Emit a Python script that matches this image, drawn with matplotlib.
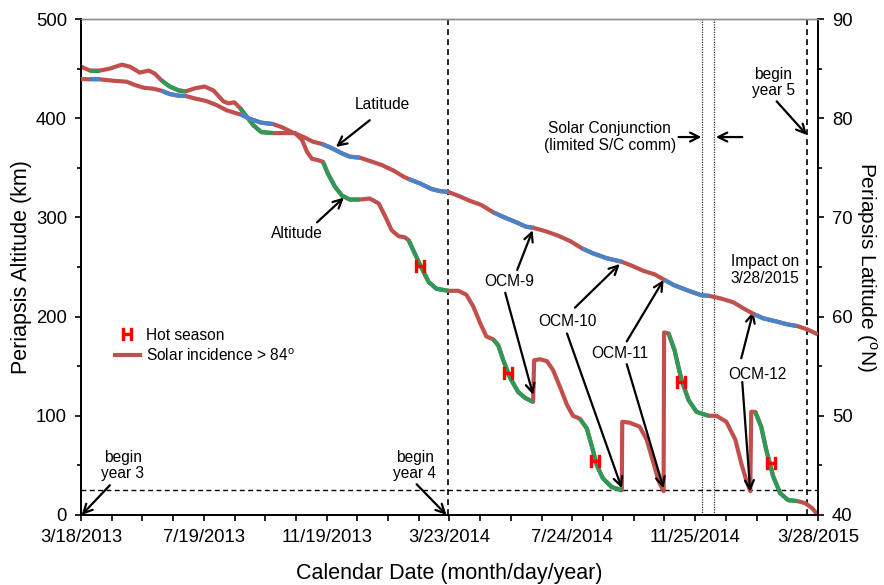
import numpy as np
import matplotlib.pyplot as plt
from matplotlib.lines import Line2D

plt.rcParams['font.family'] = ['Liberation Sans', 'DejaVu Sans']
plt.rcParams['mathtext.fontset'] = 'custom'
plt.rcParams['mathtext.rm'] = 'Liberation Sans'
plt.rcParams['mathtext.bf'] = 'Liberation Sans:bold'

# x values are days since 3/18/2013
alt_day = [0, 9, 19, 29, 41, 49, 59, 68, 74, 81, 89, 98, 105, 114, 124, 133, 143, 148, 154, 160,
           166, 173, 181, 193, 203, 215, 222, 227, 232, 237, 243, 248, 255, 262, 270, 280, 290, 299, 305, 312,
           319, 325, 329, 335, 342, 349, 357, 369, 379, 387, 394, 401, 407, 414, 419, 424, 431, 439, 446, 454,
           455, 461, 468, 474, 481, 488, 494, 501, 508, 513, 518, 524, 533, 543, 543.5, 551, 561, 568, 575, 580,
           585, 585.5, 590, 596, 603, 610, 618, 630, 638, 648, 657, 663, 668, 672, 673, 677, 683, 688, 695, 702,
           710, 719, 727, 734, 740]
alt_km = [452, 448, 448, 450, 454, 452, 446, 448, 445, 438, 432, 428, 427, 430, 432, 428, 417, 415, 416, 410,
          402, 393, 386, 385, 385, 385, 378, 366, 359, 358, 356, 344, 331, 322, 318, 318, 319, 314, 302, 287,
          281, 280, 277, 264, 249, 235, 228, 226, 226, 222, 210, 193, 180, 177, 171, 156, 138, 124, 118, 114,
          156, 157, 155, 146, 129, 111, 100, 97, 87, 69, 50, 37, 28, 25, 94, 93, 89, 76, 52, 34,
          24, 184, 183, 166, 136, 116, 104, 100, 100, 94, 76, 52, 35, 24, 104, 104, 89, 66, 39, 22,
          15, 14, 12, 7, 0]

lat_day = [0, 9, 19, 32, 46, 54, 63, 73, 81, 89, 98, 105, 114, 126, 136, 146, 156, 160, 170, 181,
           193, 202, 213, 223, 233, 242, 250, 262, 270, 280, 290, 302, 314, 324, 329, 340, 352, 360, 369, 381,
           391, 402, 414, 425, 437, 447, 454, 468, 479, 491, 503, 514, 528, 543, 553, 565, 576, 586, 595, 608,
           622, 631, 642, 655, 665, 676, 685, 699, 709, 719, 729, 740]
lat_deg = [83.95, 83.92, 83.92, 83.78, 83.68, 83.35, 83.07, 82.97, 82.77, 82.44, 82.27, 82.24, 82.0, 81.73,
           81.33, 80.81, 80.49, 80.39, 79.92, 79.55, 79.41, 79.08, 78.54, 78.13, 77.63, 77.40, 77.07, 76.46,
           76.12, 76.02, 75.69, 75.28, 74.71, 74.10, 73.87, 73.44, 72.86, 72.66, 72.56, 72.09, 71.65, 71.25,
           70.51, 70.01, 69.51, 69.06, 68.96, 68.56, 68.16, 67.62, 66.88, 66.38, 65.88, 65.53, 65.13, 64.60,
           64.26, 63.69, 63.19, 62.68, 62.18, 62.08, 61.84, 61.44, 60.84, 60.23, 59.83, 59.49, 59.22, 59.05,
           58.72, 58.2]

# periods when solar incidence is below 84 deg (green / blue parts)
seasons = [(9, 19), (81, 105), (160, 193), (242, 280), (329, 369), (414, 454.5),
           (501, 543.2), (586, 631), (676, 719)]

hot_day = [340, 429, 516, 602, 693]
hot_km = [251, 143, 54, 134, 52]

tick_days = np.linspace(0, 740, 7)
tick_labels = ['3/18/2013', '7/19/2013', '11/19/2013', '3/23/2014', '7/24/2014', '11/25/2014', '3/28/2015']
year_starts = [369, 729]
conjunction = [624, 636]
min_alt = 25

RED = '#C0504D'
GREEN = '#2E9A58'
BLUE = '#4A84C8'

fig = plt.figure(figsize=(8.84, 5.85), dpi=100)
ax = fig.add_axes([0.0916, 0.1197, 0.8337, 0.8478])
ax2 = ax.twinx()


def draw(a, x, y, col):
    x = np.asarray(x, dtype=float)
    y = np.asarray(y, dtype=float)
    a.plot(x, y, color=RED, lw=3, solid_capstyle='butt', solid_joinstyle='round', zorder=3)
    for s, e in seasons:
        m = (x >= s) & (x <= e)
        a.plot(x[m], y[m], color=col, lw=3, solid_capstyle='butt', solid_joinstyle='round', zorder=4)


draw(ax, alt_day, alt_km, GREEN)
draw(ax2, lat_day, lat_deg, BLUE)

ax.plot(hot_day, hot_km, ls='none', marker='$\\mathbf{H}$', ms=8.5, color='red', zorder=5)

for d in year_starts:
    ax.axvline(d, color='k', ls=(0, (3.5, 2.5)), lw=1.2, zorder=2)
for d in conjunction:
    ax.axvline(d, color='#333333', ls=(0, (1, 1)), lw=0.9, zorder=2)
ax.axhline(min_alt, color='k', ls=(0, (3.5, 2.5)), lw=1.0, zorder=2)

ax.set_xlim(0, 740)
ax.set_ylim(0, 500)
ax2.set_ylim(40, 90)
ax.set_xticks(tick_days)
ax.set_xticklabels(tick_labels)
ax.set_xticks(np.linspace(0, 740, 25), minor=True)
ax.set_yticks(np.arange(0, 501, 100))
ax.set_yticks(np.arange(0, 501, 50), minor=True)
ax2.set_yticks(np.arange(40, 91, 10))
ax2.set_yticks(np.arange(40, 91, 5), minor=True)

ax.tick_params(axis='x', which='both', direction='out', length=4, width=1.2, labelsize=13.3, pad=6)
ax.tick_params(axis='y', which='major', direction='out', length=4, width=1.2, labelsize=13.3, pad=6)
ax.tick_params(axis='y', which='minor', direction='out', length=3, width=1.2)
ax2.tick_params(axis='y', which='major', direction='out', length=4, width=1.2, labelsize=13.3, pad=6)
ax2.tick_params(axis='y', which='minor', direction='out', length=3, width=1.2)

for a in (ax, ax2):
    a.spines['top'].set_color('#8c8c8c')
    a.spines['top'].set_linewidth(1.0)
    for s in ('left', 'right', 'bottom'):
        a.spines[s].set_linewidth(1.3)

ax.set_xlabel('Calendar Date (month/day/year)', fontsize=15.5, labelpad=12)
ax.set_ylabel('Periapsis Altitude (km)', fontsize=15.5, labelpad=3)
ax2.set_ylabel('Periapsis Latitude ($^{\\mathregular{o}}$N)', fontsize=15, rotation=270,
               va='bottom', labelpad=1)

fs = 11.2
texts = [
    (303, 414, 'Latitude'),
    (217, 284, 'Altitude'),
    (430, 235, 'OCM-9'),
    (488, 195, 'OCM-10'),
    (541, 163, 'OCM-11'),
    (679, 142, 'OCM-12'),
    (42, 50, 'begin\nyear 3'),
    (335, 50, 'begin\nyear 4'),
    (695, 436, 'begin\nyear 5'),
    (531, 381, 'Solar Conjunction\n(limited S/C comm)'),
    (687, 247, 'Impact on\n3/28/2015'),
]
for x, y, s in texts:
    ax.text(x, y, s, fontsize=fs, ha='center', va='center', linespacing=1.1, zorder=6)

arrows = [
    ((290, 398), (256, 371)),
    ((237, 295), (264, 320)),
    ((438, 247), (453.5, 287)),
    ((426, 224), (454, 121)),
    ((496, 209), (541, 253)),
    ((488, 183), (543, 27)),
    ((548, 175), (585, 237)),
    ((548, 152), (585, 27)),
    ((663, 158), (675, 205)),
    ((664, 134), (672, 23.5)),
    ((29, 30), (0.7, 0)),
    ((337, 31), (367, 0)),
    ((698.5, 417), (729, 383)),
    ((600, 381), (623, 381)),
    ((664, 381), (637.5, 381)),
]
for tail, head in arrows:
    ax.annotate('', xy=head, xytext=tail,
                arrowprops=dict(arrowstyle='->', color='k', lw=1.6, mutation_scale=16,
                                shrinkA=0, shrinkB=0), zorder=6, annotation_clip=False)

h_handle = Line2D([], [], ls='none', marker='$\\mathbf{H}$', ms=8.5, color='red')
r_handle = Line2D([], [], color=RED, lw=3)
ax.legend([h_handle, r_handle], ['Hot season', 'Solar incidence > 84$^{\\mathregular{o}}$'],
          loc='upper left', bbox_to_anchor=(0.046, 0.378), frameon=False, fontsize=fs,
          handlelength=1.6, handletextpad=0.4, labelspacing=0.3, borderpad=0, borderaxespad=0)

fig.savefig('out.png', dpi=100)
plt.close(fig)
